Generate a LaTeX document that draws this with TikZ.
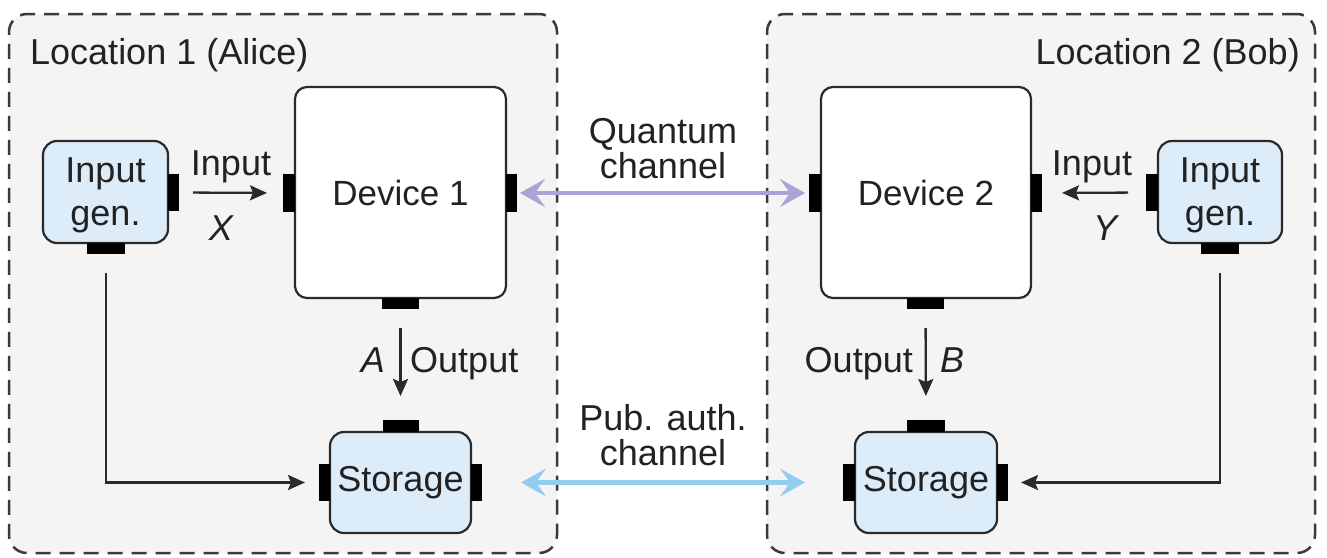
\documentclass[tikz,border=0pt]{standalone}
\usepackage{fontspec}
\setmainfont{Liberation Sans}
\usetikzlibrary{arrows.meta}

\definecolor{locfill}{HTML}{F4F4F4}
\definecolor{locline}{HTML}{3A3A3A}
\definecolor{edge}{HTML}{2A2A2A}
\definecolor{genblue}{HTML}{DDECF9}
\definecolor{qpurple}{HTML}{A9A3D7}
\definecolor{pubblue}{HTML}{92CDF0}
\definecolor{ink}{HTML}{222222}

\tikzset{
  location/.style={draw=locline, line width=2.5pt, dash pattern=on 15pt off 9pt,
    fill=locfill, rounded corners=18pt, inner sep=0pt, outer sep=0pt},
  devbox/.style={draw=edge, line width=2.2pt, fill=white, rounded corners=12pt,
    inner sep=0pt, outer sep=0pt, text=ink, font=\fontsize{35}{40}\selectfont},
  genbox/.style={draw=edge, line width=2.2pt, fill=genblue, rounded corners=14pt,
    inner sep=0pt, outer sep=0pt, align=center, text=ink,
    font=\fontsize{36}{43}\selectfont},
  twoline/.style={text depth=0pt},
  port/.style={fill=black, draw=none, inner sep=0pt, outer sep=0pt},
  label/.style={text=ink, inner sep=0pt},
  flow/.style={draw=edge, line width=2.3pt,
    -{Stealth[length=17pt,width=15pt,inset=3pt]}},
  chan/.style={line width=4.5pt,
    {Stealth[length=25pt,width=28pt,inset=10pt]}-{Stealth[length=25pt,width=28pt,inset=10pt]}},
}

\begin{document}
\begin{tikzpicture}[x=1pt, y=-1pt, font=\fontsize{36}{40}\selectfont]
\useasboundingbox (0,0) rectangle (1327,557);

% the two locations
\node[location, minimum width=548pt, minimum height=539pt] (loc1) at (283,283.5) {};
\node[location, minimum width=548pt, minimum height=539pt] (loc2) at (1041,283.5) {};
\node[label, anchor=base west] (loc1lbl) at (30,64) {Location 1 (Alice)};
\node[label, anchor=base east] (loc2lbl) at (1300,64) {Location 2 (Bob)};

% Alice's side
\node[genbox, twoline, minimum width=125pt, minimum height=102pt] (g1) at (105.5,192) {Input\\gen.};
\node[devbox, minimum width=211pt, minimum height=211pt] (d1) at (400.5,192.5) {Device 1};
\node[genbox, minimum width=141pt, minimum height=101pt] (s1) at (400.5,482.5) {Storage};

\node[port, minimum width=11pt, minimum height=37pt] (g1e) at (173.5,192.5) {};
\node[port, minimum width=38pt, minimum height=11pt] (g1s) at (106,248.5) {};
\node[port, minimum width=12pt, minimum height=38pt] (d1w) at (289,193) {};
\node[port, minimum width=11pt, minimum height=38pt] (d1e) at (511.5,193) {};
\node[port, minimum width=37pt, minimum height=11pt] (d1s) at (400.5,303.5) {};
\node[port, minimum width=36pt, minimum height=12pt] (s1n) at (400.5,426) {};
\node[port, minimum width=11pt, minimum height=37pt] (s1w) at (324.5,482.5) {};
\node[port, minimum width=11pt, minimum height=37pt] (s1e) at (476.5,482.5) {};

% Bob's side
\node[devbox, minimum width=210pt, minimum height=211pt] (d2) at (926,192.5) {Device 2};
\node[genbox, twoline, minimum width=124pt, minimum height=102pt] (g2) at (1220,192) {Input\\gen.};
\node[genbox, minimum width=142pt, minimum height=101pt] (s2) at (926,482.5) {Storage};

\node[port, minimum width=12pt, minimum height=38pt] (d2w) at (815,193) {};
\node[port, minimum width=11pt, minimum height=38pt] (d2e) at (1036.5,193) {};
\node[port, minimum width=37pt, minimum height=11pt] (d2s) at (925.5,303.5) {};
\node[port, minimum width=12pt, minimum height=37pt] (g2w) at (1152,192.5) {};
\node[port, minimum width=38pt, minimum height=11pt] (g2s) at (1220,248.5) {};
\node[port, minimum width=38pt, minimum height=12pt] (s2n) at (926,426) {};
\node[port, minimum width=12pt, minimum height=37pt] (s2w) at (849,482.5) {};
\node[port, minimum width=11pt, minimum height=37pt] (s2e) at (1002.5,482.5) {};

% local connections, Alice
\draw[flow, shorten <=14pt, shorten >=16pt] (g1e.east) -- (d1w.west);
\draw[flow, shorten <=19pt, shorten >=24pt] (d1s.south) -- (s1n.north);
\draw[flow, shorten <=19pt, shorten >=14pt] (g1s.south) |- (s1w.west);
\node[label, anchor=base] (in1) at (231,175) {Input};
\node[label, anchor=base] (x1) at (221,240) {\itshape X};
\node[label, anchor=base east] (a1) at (385,372) {\itshape A};
\node[label, anchor=base west] (out1) at (410,372) {Output};

% local connections, Bob
\draw[flow, shorten <=18pt, shorten >=20pt] (g2w.west) -- (d2e.east);
\draw[flow, shorten <=19pt, shorten >=24pt] (d2s.south) -- (s2n.north);
\draw[flow, shorten <=19pt, shorten >=13pt] (g2s.south) |- (s2e.east);
\node[label, anchor=base] (in2) at (1092,175) {Input};
\node[label, anchor=base] (y2) at (1105,240) {\itshape Y};
\node[label, anchor=base east] (out2) at (913,372) {Output};
\node[label, anchor=base west] (b2) at (940,372) {\itshape B};

% channels between the locations
\draw[chan, draw=qpurple, shorten <=3pt, shorten >=4pt] (d1e.east) -- (d2w.west);
\node[label, anchor=base] (qlbl1) at (663,143) {Quantum};
\node[label, anchor=base] (qlbl2) at (663,178) {channel};

\draw[chan, draw=pubblue, shorten <=39pt, shorten >=38pt] (s1e.east) -- (s2w.west);
\node[label, anchor=base] (plbl1) at (663,430) {Pub. auth.};
\node[label, anchor=base] (plbl2) at (663,465) {channel};
\end{tikzpicture}
\end{document}
